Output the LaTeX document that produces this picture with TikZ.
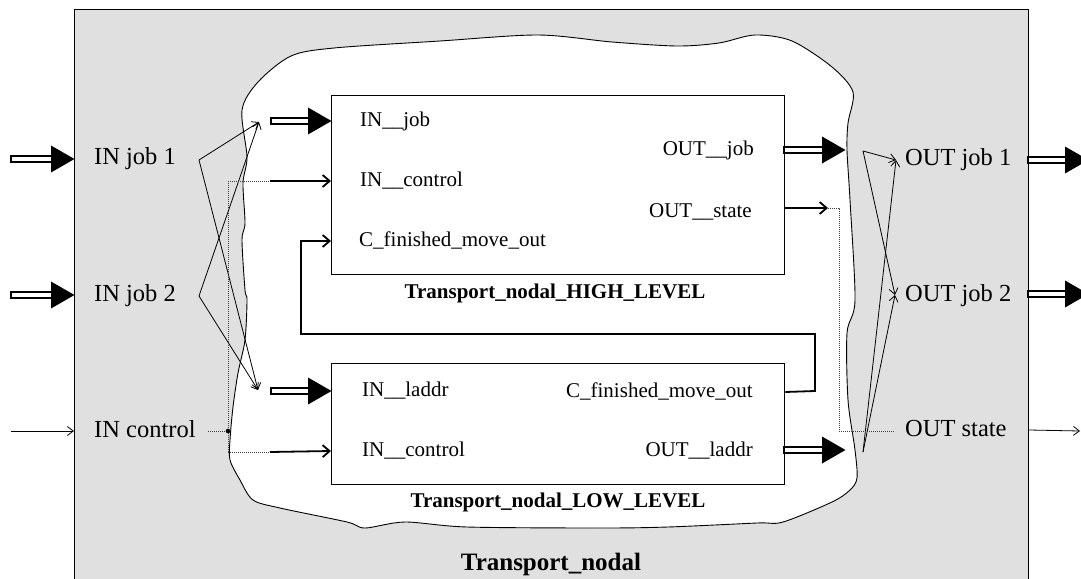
\documentclass[tikz,border=0pt]{standalone}
\usepackage{fontspec}
\setmainfont{Liberation Serif}
\usetikzlibrary{arrows.meta,calc}
\definecolor{framegray}{RGB}{224,224,224}

% thick "job" connector: white shaft with black outline and a filled triangular head
\newcommand\jobflow[2]{%
  \draw[line width=1.1pt, fill=white] ($(#1)+(0,-3)$) rectangle ($(#2)+(-22,3)$);
  \fill ($(#2)+(0.5,0)$) -- ($(#2)+(-23,-13.5)$) -- ($(#2)+(-23,13.5)$) -- cycle;}

\begin{document}
\begin{tikzpicture}[x=1pt,y=-1pt,
  big/.style={inner sep=0pt, text height=17pt, text depth=5pt, font=\fontsize{24.5}{28}\selectfont},
  small/.style={inner sep=0pt, text height=14.5pt, text depth=4.5pt, font=\fontsize{21}{24}\selectfont},
  caption/.style={inner sep=0pt, font=\bfseries\fontsize{21}{24}\selectfont},
  title/.style={inner sep=0pt, font=\bfseries\fontsize{25}{28}\selectfont},
  block/.style={draw, line width=1.3pt, fill=white, inner sep=0pt, anchor=north west},
  thinflow/.style={line width=0.8pt, -{Straight Barb[length=6pt,width=9pt]}},
  ctlflow/.style={line width=1.8pt, line join=miter, -{Straight Barb[length=7pt,width=12pt]}},
  dots/.style={line width=1pt, dash pattern=on 1pt off 1pt, black!75},
]
\useasboundingbox (0,0) rectangle (1081,578);

% enclosing component
\node[draw, line width=1.1pt, fill=framegray, anchor=north west, inner sep=0pt,
      minimum width=954pt, minimum height=640pt] (frame) at (74,9) {};

% free-hand boundary of the inner composition
\draw[line width=0.9pt, fill=white] plot[smooth cycle, tension=0.5] coordinates {
  (258,82) (291,56) (334,48) (440,41) (538,35) (612,42) (677,46) (719,43) (755,35) (792,41)
  (832,67) (853,92) (848,123) (847,150) (850,200) (855,300) (847,333) (848,400)
  (855,450) (857,478) (850,490) (832,502) (783,522) (757,523) (668,527) (601,528)
  (467,527) (405,522) (365,528) (347,522) (280,508) (253,500) (240,480) (230,460)
  (230,440) (233,407) (238,373) (245,340) (247,300) (245,290) (242,240) (245,223)
  (243,183) (247,157) (242,110)};

% sub-components
\node[block, minimum width=453pt, minimum height=179pt] (hi) at (331,95) {};
\node[block, minimum width=453pt, minimum height=121pt] (lo) at (331,363) {};

\node[caption] (hicap) at (555,293) {Transport\_nodal\_HIGH\_LEVEL};
\node[caption] (locap) at (558,502) {Transport\_nodal\_LOW\_LEVEL};
\node[title] (ttl) at (551,564) {Transport\_nodal};

% ports of the high level block
\node[small, anchor=west] (hijob) at (360,121) {IN\_\_job};
\node[small, anchor=west] (hictl) at (360,181) {IN\_\_control};
\node[small, anchor=west] (hifin) at (359,241) {C\_finished\_move\_out};
\node[small, anchor=east] (hiout) at (754,150) {OUT\_\_job};
\node[small, anchor=east] (histate) at (752,212) {OUT\_\_state};

% ports of the low level block
\node[small, anchor=west] (loaddr) at (362,391) {IN\_\_laddr};
\node[small, anchor=west] (loctl) at (362,451) {IN\_\_control};
\node[small, anchor=east] (lofin) at (753,392) {C\_finished\_move\_out};
\node[small, anchor=east] (loout) at (753,451) {OUT\_\_laddr};

% external ports
\node[big, anchor=west] (inj1) at (94,158) {IN job 1};
\node[big, anchor=west] (inj2) at (94,295) {IN job 2};
\node[big, anchor=west] (inctl) at (94,431) {IN control};
\node[big, anchor=west] (outj1) at (905,159) {OUT job 1};
\node[big, anchor=west] (outj2) at (905,295) {OUT job 2};
\node[big, anchor=west] (outst) at (905,430) {OUT state};

% connection points
\coordinate (a1) at (11,159);   \coordinate (a1t) at (74,159);
\coordinate (a2) at (11,295);   \coordinate (a2t) at (74,295);
\coordinate (b1) at (271,121);  \coordinate (b1t) at (331,121);
\coordinate (b2) at (271,391);  \coordinate (b2t) at (331,391);
\coordinate (c1) at (784,150);  \coordinate (c1t) at (845,150);
\coordinate (c2) at (784,450);  \coordinate (c2t) at (845,450);
\coordinate (d1) at (1028,160); \coordinate (d1t) at (1088,160);
\coordinate (d2) at (1028,294); \coordinate (d2t) at (1088,294);

\coordinate (s1) at (199,160);  \coordinate (s2) at (199,296);
\coordinate (e1) at (259,122);  \coordinate (e2) at (258,390);
\coordinate (r1) at (863,151);  \coordinate (r2) at (863,452);
\coordinate (f1) at (896,160);  \coordinate (f2) at (895,295);
\coordinate (junc) at (228,431);

% job flows
\jobflow{a1}{a1t}
\jobflow{a2}{a2t}
\jobflow{b1}{b1t}
\jobflow{b2}{b2t}
\jobflow{c1}{c1t}
\jobflow{c2}{c2t}
\jobflow{d1}{d1t}
\jobflow{d2}{d2t}

% routing of the input jobs
\draw[thinflow] (s1) -- (e1);
\draw[thinflow] (s1) -- (e2);
\draw[thinflow] (s2) -- (e1);
\draw[thinflow] (s2) -- (e2);

% routing of the output jobs
\draw[thinflow] (r1) -- (f1);
\draw[thinflow] (r1) -- (f2);
\draw[thinflow] (r2) -- (f1);
\draw[thinflow] (r2) -- (f2);

% control input
\draw[thinflow] (11,431) -- (frame.west |- inctl);
\draw[dots] (208,431) -- (junc);
\draw[dots] (228,181) -- (228,452);
\fill (junc) circle (2.3pt);
\draw[dots] (228,181) -- (270,181);
\draw[ctlflow] (270,181) -- (hi.west |- hictl);
\draw[dots] (228,452) -- (270,452);
\draw[ctlflow] (270,452) -- (lo.west |- loctl);

% finished-move feedback from the low level to the high level block
\draw[ctlflow] (lo.east |- lofin) -- (815,391) -- (815,334) -- (301,334) -- (301,241) -- (hi.west |- hifin);

% state output
\draw[ctlflow] (hi.east |- 0,208) -- (828,208);
\draw[dots] (828,208) -- (839,208) -- (839,431) -- (895,431);
\draw[thinflow] (frame.east |- outst) -- (1080,431);
\end{tikzpicture}
\end{document}
